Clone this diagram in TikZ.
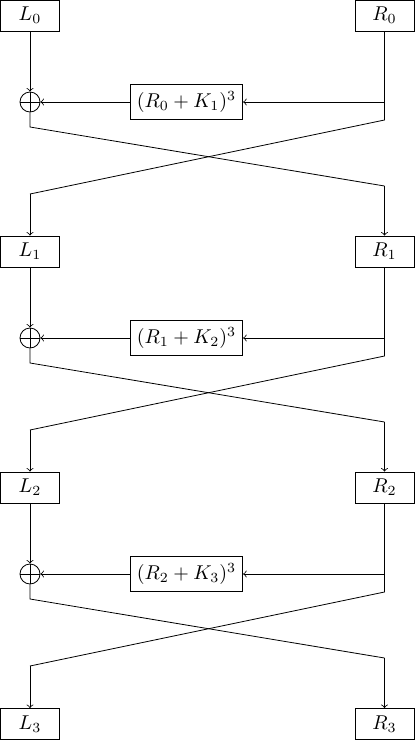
\documentclass[tikz,border=0pt]{standalone}
\begin{document}
\begin{tikzpicture}[x=0.5pt,y=-0.5pt,
        half/.style={draw,minimum width=29.5pt,minimum height=15.5pt},
        roundfn/.style={draw,minimum height=16.5pt},
        xor/.style={circle,draw,minimum size=10pt,inner sep=0pt,
            path picture={\draw (path picture bounding box.north) -- (path picture bounding box.south)
                (path picture bounding box.west) -- (path picture bounding box.east);}}]
                        \useasboundingbox (0,0) rectangle (415,741);

                        \node[half] (L0) at (30,15.5) {$L_0$};
                        \node[half] (R0) at (384.5,15.5) {$R_0$};
                        \node[xor] (X1) at (30,102) {};
                        \node[roundfn] (F1) at (186.5,102) {$(R_0 + K_1)^3$};
                        \coordinate (T1) at (384.5,102);
                        \coordinate (A1) at (384.5,120);
                        \coordinate (B1) at (30,194);
                        \coordinate (C1) at (30,127);
                        \coordinate (D1) at (384.5,186);
                        \draw[->] (L0) -- (X1);
                        \draw[-] (R0) -- (T1) -- (A1) -- (B1);
                        \draw[->] (T1) -- (F1);
                        \draw[->] (F1) -- (X1);
                        \draw[-] (X1) -- (C1) -- (D1);

                        \node[half] (L1) at (30,251.5) {$L_1$};
                        \node[half] (R1) at (384.5,251.5) {$R_1$};
                        \draw[->] (B1) -- (L1);
                        \draw[->] (D1) -- (R1);
                        \node[xor] (X2) at (30,338) {};
                        \node[roundfn] (F2) at (186.5,338) {$(R_1 + K_2)^3$};
                        \coordinate (T2) at (384.5,338);
                        \coordinate (A2) at (384.5,356);
                        \coordinate (B2) at (30,430);
                        \coordinate (C2) at (30,363);
                        \coordinate (D2) at (384.5,422);
                        \draw[->] (L1) -- (X2);
                        \draw[-] (R1) -- (T2) -- (A2) -- (B2);
                        \draw[->] (T2) -- (F2);
                        \draw[->] (F2) -- (X2);
                        \draw[-] (X2) -- (C2) -- (D2);

                        \node[half] (L2) at (30,487.5) {$L_2$};
                        \node[half] (R2) at (384.5,487.5) {$R_2$};
                        \draw[->] (B2) -- (L2);
                        \draw[->] (D2) -- (R2);
                        \node[xor] (X3) at (30,574) {};
                        \node[roundfn] (F3) at (186.5,574) {$(R_2 + K_3)^3$};
                        \coordinate (T3) at (384.5,574);
                        \coordinate (A3) at (384.5,592);
                        \coordinate (B3) at (30,666);
                        \coordinate (C3) at (30,599);
                        \coordinate (D3) at (384.5,658);
                        \draw[->] (L2) -- (X3);
                        \draw[-] (R2) -- (T3) -- (A3) -- (B3);
                        \draw[->] (T3) -- (F3);
                        \draw[->] (F3) -- (X3);
                        \draw[-] (X3) -- (C3) -- (D3);

                        \node[half] (L3) at (30,724) {$L_3$};
                        \node[half] (R3) at (384.5,724) {$R_3$};
                        \draw[->] (B3) -- (L3);
                        \draw[->] (D3) -- (R3);
\end{tikzpicture}
\end{document}
